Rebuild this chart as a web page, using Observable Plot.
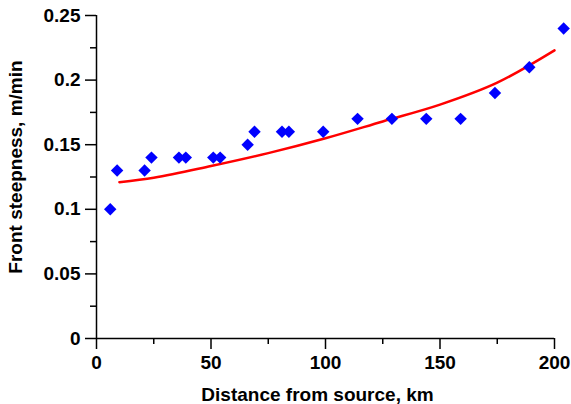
<!DOCTYPE html>
<html><head><meta charset="utf-8">
<script src="https://cdn.jsdelivr.net/npm/d3@7"></script>
<script src="https://cdn.jsdelivr.net/npm/@observablehq/plot@0.6"></script>
<style>body{margin:0;background:#fff}</style>
</head><body><div id="chart"></div>
<script>
const distance = [6, 9, 21, 24, 36, 39, 51, 54, 66, 69, 81, 84, 99, 114, 129, 144, 159, 174, 189, 204];
const steepness = [0.10, 0.13, 0.13, 0.14, 0.14, 0.14, 0.14, 0.14, 0.15, 0.16, 0.16, 0.16, 0.16, 0.17, 0.17, 0.17, 0.17, 0.19, 0.21, 0.24];
const fitDistance = [10, 25, 50, 75, 100, 125, 150, 175, 200];
const fitSteepness = [0.121, 0.1245, 0.1335, 0.1435, 0.155, 0.168, 0.181, 0.198, 0.223];
const xMajorTicks = [0, 50, 100, 150, 200];
const xMinorTicks = [25, 75, 125, 175];
const yMajorTicks = [0, 0.05, 0.1, 0.15, 0.2, 0.25];
const yMinorTicks = [0.025, 0.075, 0.125, 0.175, 0.225];
const yTickLabels = ["0", "0.05", "0.1", "0.15", "0.2", "0.25"];
const xTitle = "Distance from source, km";
const yTitle = "Front steepness, m/min";

const points = distance.map((d, i) => ({distance: d, steepness: steepness[i]}));
const fit = fitDistance.map((d, i) => ({distance: d, steepness: fitSteepness[i]}));

const chart = Plot.plot({
  width: 571,
  height: 404,
  marginLeft: 96,
  marginRight: 17,
  marginTop: 15,
  marginBottom: 66,
  style: {fontFamily: "'Liberation Sans', Arial, Helvetica, sans-serif", fontWeight: "bold", fontSize: "19px", color: "#000", background: "#fff", overflow: "visible"},
  x: {domain: [0, 200]},
  y: {domain: [0, 0.25]},
  marks: [
    Plot.axisX(xMajorTicks, {tickSize: 11, tickPadding: 6, strokeWidth: 1.5, label: null, fill: "#000"}),
    Plot.axisX(xMinorTicks, {tickSize: 6, text: null, strokeWidth: 1.5, label: null}),
    Plot.axisY(yMajorTicks, {tickSize: 11, tickPadding: 5, strokeWidth: 1.5, label: null, fill: "#000", tickFormat: d => yTickLabels[yMajorTicks.indexOf(d)]}),
    Plot.axisY(yMinorTicks, {tickSize: 6, text: null, strokeWidth: 1.5, label: null}),
    Plot.ruleX([0], {y1: 0, y2: 0.25, stroke: "#000", strokeWidth: 1.5}),
    Plot.ruleY([0], {x1: 0, x2: 200, stroke: "#000", strokeWidth: 1.5}),
    Plot.line(fit, {x: "distance", y: "steepness", stroke: "#ff0000", strokeWidth: 2.5, curve: "monotone-x"}),
    Plot.dot(points, {x: "distance", y: "steepness", symbol: "diamond2", r: 5.6, fill: "#0000ff", stroke: "none"}),
    Plot.text([xTitle], {frameAnchor: "bottom", textAnchor: "middle", lineAnchor: "middle", dx: -8, dy: 56, fill: "#000"}),
    Plot.text([yTitle], {frameAnchor: "left", textAnchor: "middle", lineAnchor: "middle", rotate: -90, dx: -81, dy: -10, fill: "#000"})
  ]
});
document.getElementById("chart").appendChild(chart);
</script>
</body></html>
